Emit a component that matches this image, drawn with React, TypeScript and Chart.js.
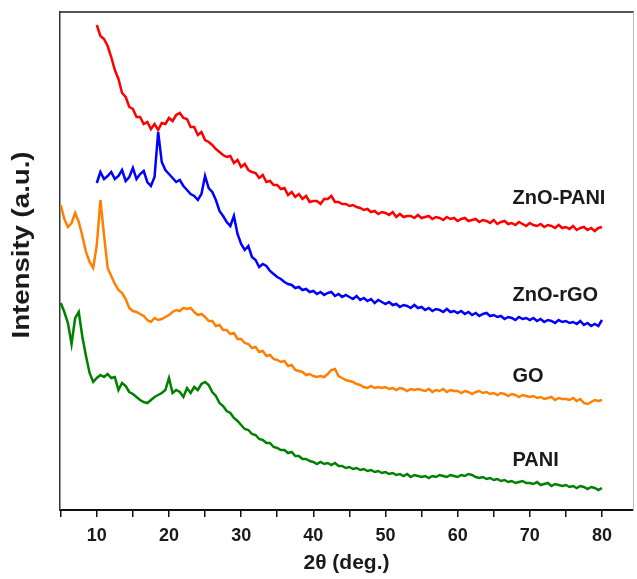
import React, { useEffect, useRef } from 'react';
import { Chart, registerables } from 'chart.js';

Chart.register(...registerables);

// XRD step size (degrees 2θ) and start angle for each pattern
const STEP = 0.5;

// ZnO-PANI, 10° → 80°
const ZNO_PANI_START = 10;
const ZNO_PANI = [
  485, 474, 471, 464, 453, 440, 431, 417, 413, 403,
  401, 393, 393, 386, 388, 381, 386, 380, 387, 386,
  392, 389, 395, 397, 392, 391, 383, 383, 375, 378,
  370, 368, 365, 361, 358, 355, 353, 354, 347, 350,
  343, 346, 340, 338, 337, 332, 335, 328, 329, 325,
  325, 321, 322, 315, 318, 313, 316, 311, 314, 308,
  309, 309, 306, 311, 311, 314, 308, 308, 306, 306,
  304, 305, 303, 302, 300, 301, 298, 299, 296, 298,
  297, 295, 298, 293, 296, 293, 294, 294, 292, 295,
  292, 293, 294, 291, 293, 292, 290, 293, 291, 292,
  289, 291, 292, 289, 290, 291, 288, 290, 289, 287,
  290, 286, 288, 289, 286, 287, 285, 288, 286, 284,
  287, 285, 284, 286, 283, 285, 284, 282, 285, 282,
  283, 281, 284, 280, 282, 283, 280, 282, 279, 282,
  283,
];

// ZnO-rGO, 10° → 80°
const ZNO_RGO_START = 10;
const ZNO_RGO = [
  327, 338, 331, 334, 338, 331, 334, 340, 329, 333,
  342, 331, 336, 339, 328, 324, 333, 378, 348, 340,
  336, 332, 328, 330, 324, 320, 316, 314, 310, 316,
  334, 322, 318, 310, 299, 294, 288, 284, 294, 276,
  266, 260, 264, 253, 250, 243, 246, 244, 239, 236,
  233, 231, 228, 226, 225, 222, 223, 220, 221, 218,
  219, 216, 218, 215, 217, 218, 214, 216, 213, 215,
  213, 211, 214, 210, 212, 209, 211, 207, 210, 208,
  206, 208, 205, 206, 203, 205, 204, 202, 205, 202,
  203, 200, 202, 199, 201, 200, 198, 201, 198, 199,
  197, 199, 196, 198, 195, 197, 194, 196, 197, 194,
  195, 193, 194, 191, 193, 192, 190, 193, 191, 192,
  190, 192, 189, 191, 188, 190, 189, 187, 190, 188,
  189, 187, 188, 186, 189, 185, 187, 184, 186, 184,
  190,
];

// GO, 5° → 80°
const GO_START = 5;
const GO = [
  305, 291, 283, 287, 297, 288, 274, 258, 248, 242,
  265, 310, 275, 242, 234, 226, 220, 217, 211, 202,
  199, 198, 196, 194, 190, 188, 192, 190, 191, 193,
  195, 198, 200, 199, 202, 201, 202, 198, 195, 196,
  193, 189, 189, 184, 185, 180, 180, 176, 177, 171,
  171, 167, 166, 162, 163, 158, 159, 154, 155, 151,
  150, 148, 149, 144, 145, 140, 139, 138, 135, 136,
  134, 133, 134, 133, 136, 140, 141, 134, 132, 130,
  129, 128, 126, 125, 123, 122, 124, 122, 123, 122,
  123, 121, 122, 120, 122, 121, 119, 121, 120, 121,
  120, 119, 121, 118, 120, 119, 121, 118, 120, 119,
  119, 117, 119, 118, 116, 118, 119, 117, 118, 116,
  117, 115, 117, 116, 114, 116, 115, 113, 115, 114,
  113, 114, 112, 113, 111, 112, 113, 110, 112, 111,
  111, 110, 112, 109, 111, 107, 106, 108, 110, 109,
  110,
];

// PANI, 5° → 80°
const PANI_START = 5;
const PANI = [
  207, 198, 187, 166, 192, 198, 173, 154, 137, 128,
  132, 135, 133, 136, 132, 133, 120, 127, 124, 118,
  116, 113, 110, 108, 107, 110, 113, 115, 117, 120,
  132, 117, 120, 118, 113, 122, 117, 123, 120, 126,
  128, 125, 118, 114, 107, 104, 99, 97, 92, 89,
  85, 81, 80, 76, 75, 71, 70, 67, 67, 63,
  62, 60, 60, 57, 58, 54, 54, 51, 51, 49,
  48, 46, 48, 46, 47, 45, 47, 44, 44, 42,
  43, 41, 42, 40, 41, 39, 40, 38, 39, 37,
  38, 36, 37, 35, 36, 34, 36, 33, 35, 34,
  33, 34, 32, 34, 33, 35, 34, 33, 35, 34,
  33, 35, 34, 36, 35, 33, 32, 33, 31, 32,
  30, 31, 29, 30, 28, 29, 27, 28, 29, 27,
  27, 26, 28, 25, 26, 27, 24, 26, 25, 24,
  25, 23, 24, 22, 24, 23, 21, 23, 22, 20,
  22,
];

const SERIES_NAMES = ['ZnO-PANI', 'ZnO-rGO', 'GO', 'PANI'];
const SERIES_COLORS = ['#ff0000', '#0000ff', '#ff8000', '#008000'];
const SERIES_STARTS = [ZNO_PANI_START, ZNO_RGO_START, GO_START, PANI_START];
const SERIES_VALUES = [ZNO_PANI, ZNO_RGO, GO, PANI];

// in-plot series labels: angle of left edge, and intensity level of each label
const LABEL_ANGLE = 67.6;
const LABEL_LEVELS = [312, 215, 134, 50];

const X_TICKS = [5, 10, 15, 20, 25, 30, 35, 40, 45, 50, 55, 60, 65, 70, 75, 80];
const X_LABELED = [10, 20, 30, 40, 50, 60, 70, 80];
const X_MIN = 4.9;
const X_MAX = 84.3;
const Y_MIN = 0;
const Y_MAX = 498;

const X_TITLE = '2θ (deg.)';
const Y_TITLE = 'Intensity (a.u.)';

const FONT_FAMILY = '"Liberation Sans", Arial, Helvetica, sans-serif';

const textPlugin = {
  id: 'seriesLabels',
  afterDatasetsDraw(chart: any) {
    const { ctx, scales } = chart;
    const xs = scales.x;
    const ys = scales.y;
    ctx.save();
    ctx.font = `bold 20px ${FONT_FAMILY}`;
    ctx.fillStyle = '#1a1a1a';
    ctx.textAlign = 'left';
    ctx.textBaseline = 'middle';
    SERIES_NAMES.forEach((name, i) => {
      ctx.fillText(name, xs.getPixelForValue(LABEL_ANGLE), ys.getPixelForValue(LABEL_LEVELS[i]));
    });
    ctx.restore();
  },
  afterDraw(chart: any) {
    // y-axis title, placed a little above the axis centre as in the figure
    const { ctx, chartArea } = chart;
    const cy = (chartArea.top + chartArea.bottom) / 2 - 16;
    ctx.save();
    ctx.translate(23, cy);
    ctx.rotate(-Math.PI / 2);
    ctx.scale(1.2, 1);
    ctx.font = `bold 23px ${FONT_FAMILY}`;
    ctx.fillStyle = '#1a1a1a';
    ctx.textAlign = 'center';
    ctx.textBaseline = 'middle';
    ctx.fillText(Y_TITLE, 0, 0);
    ctx.restore();
  },
};

export default function App() {
  const canvasRef = useRef<HTMLCanvasElement | null>(null);

  useEffect(() => {
    const canvas = canvasRef.current;
    if (!canvas) return;

    const datasets = SERIES_VALUES.map((vals, si) => ({
      label: SERIES_NAMES[si],
      data: vals.map((v, i) => ({ x: SERIES_STARTS[si] + i * STEP, y: v })),
      borderColor: SERIES_COLORS[si],
      backgroundColor: SERIES_COLORS[si],
      borderWidth: 2.5,
      pointRadius: 0,
      tension: 0,
      fill: false,
    }));

    const chart = new Chart(canvas, {
      type: 'line',
      data: { datasets },
      options: {
        responsive: false,
        animation: false,
        devicePixelRatio: 1,
        layout: { padding: 0 },
        plugins: {
          legend: { display: false },
          tooltip: { enabled: false },
        },
        scales: {
          x: {
            type: 'linear',
            position: 'bottom',
            min: X_MIN,
            max: X_MAX,
            afterBuildTicks: (scale: any) => {
              scale.ticks = X_TICKS.map((v) => ({ value: v }));
            },
            afterFit: (scale: any) => {
              scale.height = 69;
            },
            ticks: {
              autoSkip: false,
              maxRotation: 0,
              padding: 8,
              color: '#1a1a1a',
              font: { family: FONT_FAMILY, size: 18, weight: 'bold' },
              callback: (value: any) => (X_LABELED.includes(Number(value)) ? String(value) : ''),
            },
            grid: {
              display: true,
              drawOnChartArea: false,
              drawTicks: true,
              tickLength: 7,
              color: '#111',
              lineWidth: 1.5,
            },
            border: { display: true, color: '#111', width: 2 },
            title: {
              display: true,
              text: X_TITLE,
              color: '#1a1a1a',
              font: { family: FONT_FAMILY, size: 21, weight: 'bold' },
              padding: { top: 0, bottom: 3 },
            },
          },
          x2: {
            type: 'linear',
            position: 'top',
            min: X_MIN,
            max: X_MAX,
            ticks: { display: false },
            grid: { display: false },
            border: { display: true, color: '#555', width: 2 },
            afterFit: (scale: any) => {
              scale.height = 12;
            },
          },
          y: {
            type: 'linear',
            position: 'left',
            min: Y_MIN,
            max: Y_MAX,
            ticks: { display: false },
            grid: { display: false },
            border: { display: true, color: '#333', width: 1.5 },
            afterFit: (scale: any) => {
              scale.width = 60;
            },
            title: { display: false, text: Y_TITLE },
          },
          y2: {
            type: 'linear',
            position: 'right',
            min: Y_MIN,
            max: Y_MAX,
            ticks: { display: false },
            grid: { display: false },
            border: { display: true, color: '#bbb', width: 1 },
            afterFit: (scale: any) => {
              scale.width = 4;
            },
          },
        },
      },
      plugins: [textPlugin],
    } as any);

    return () => chart.destroy();
  }, []);

  return (
    <div style={{ position: 'absolute', left: 0, top: 0, width: 637, height: 579, background: '#fff' }}>
      <canvas ref={canvasRef} width={637} height={579} style={{ display: 'block' }} />
    </div>
  );
}
